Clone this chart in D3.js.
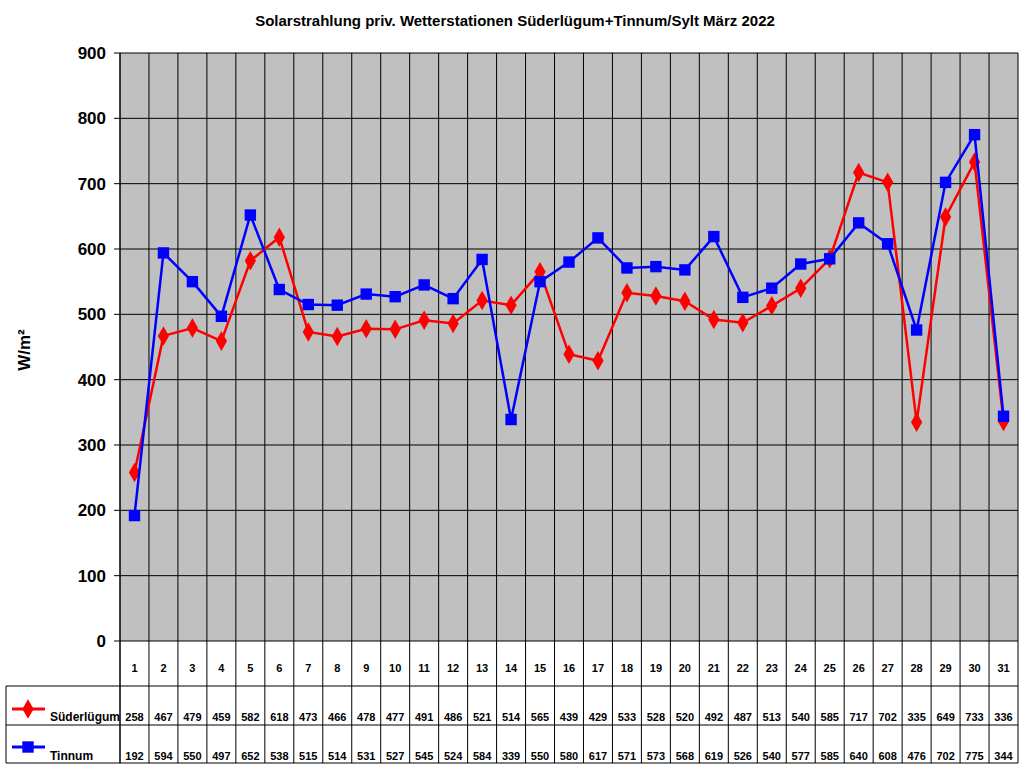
<!DOCTYPE html><html><head><meta charset="utf-8"><script src="https://cdn.jsdelivr.net/npm/d3@7"></script>
<style>body{margin:0;background:#fff}text{font-family:Arial,"Liberation Sans",sans-serif;font-weight:bold}</style></head><body>
<svg id="c" width="1024" height="768"></svg>
<script>
const days=d3.range(1,32).map(String);
const sued=[258,467,479,459,582,618,473,466,478,477,491,486,521,514,565,439,429,533,528,520,492,487,513,540,585,717,702,335,649,733,336];
const tinn=[192,594,550,497,652,538,515,514,531,527,545,524,584,339,550,580,617,571,573,568,619,526,540,577,585,640,608,476,702,775,344];
const yTicks=[0,100,200,300,400,500,600,700,800,900];
const series=[{name:"Süderlügum",vals:sued,color:"#ff0000",shape:"diamond"},{name:"Tinnum",vals:tinn,color:"#0000ff",shape:"square"}];
const svg=d3.select("#c");
const L=120,R=1018,T=53,B=641;
const x=d3.scaleBand().domain(days).range([L,R]);
const y=d3.scaleLinear().domain([0,900]).range([B,T]);
svg.append("rect").attr("x",L).attr("y",T).attr("width",R-L).attr("height",B-T).attr("fill","#c0c0c0");
svg.selectAll(".hg").data(yTicks).join("line").attr("x1",L).attr("x2",R).attr("y1",d=>y(d)).attr("y2",d=>y(d)).attr("stroke","#000");
svg.selectAll(".vg").data(days.concat(["end"])).join("line").attr("x1",d=>d==="end"?R:x(d)).attr("x2",d=>d==="end"?R:x(d)).attr("y1",T).attr("y2",763).attr("stroke","#000");
svg.append("line").attr("x1",L).attr("x2",L).attr("y1",T).attr("y2",763).attr("stroke","#000");
svg.selectAll(".yt").data(yTicks).join("line").attr("x1",L-6).attr("x2",L).attr("y1",d=>y(d)).attr("y2",d=>y(d)).attr("stroke","#000");
svg.selectAll(".yl").data(yTicks).join("text").attr("x",L-14).attr("y",d=>y(d)+6).attr("text-anchor","end").attr("font-size",17).text(d=>d);
svg.append("text").attr("transform","translate(30,350) rotate(-90)").attr("text-anchor","middle").attr("font-size",17).text("W/m²");
svg.append("text").attr("x",515).attr("y",26).attr("text-anchor","middle").attr("font-size",15).text("Solarstrahlung priv. Wetterstationen Süderlügum+Tinnum/Sylt März 2022");
// table
const rowY=[641,686,725,763];
[686,725,763].forEach(yy=>svg.append("line").attr("x1",6).attr("x2",R).attr("y1",yy).attr("y2",yy).attr("stroke","#000"));
svg.append("line").attr("x1",6).attr("x2",6).attr("y1",686).attr("y2",763).attr("stroke","#000");
svg.selectAll(".dl").data(days).join("text").attr("x",d=>x(d)+x.bandwidth()/2).attr("y",672).attr("text-anchor","middle").attr("font-size",11).text(d=>d);
const cx=d=>x(d)+x.bandwidth()/2;
series.forEach((s,i)=>{
  const ty=i===0?721:760;
  svg.selectAll(".v"+i).data(s.vals).join("text").attr("x",(v,j)=>cx(days[j])).attr("y",ty).attr("text-anchor","middle").attr("font-size",11).text(v=>v);
  svg.append("text").attr("x",50).attr("y",ty).attr("font-size",12).text(s.name);
  const ly=i===0?709:747;
  svg.append("line").attr("x1",12).attr("x2",45).attr("y1",ly).attr("y2",ly).attr("stroke",s.color).attr("stroke-width",3);
  const sym=d3.symbol().type(s.shape==="diamond"?d3.symbolDiamond:d3.symbolSquare).size(s.shape==="diamond"?110:130);
  svg.append("path").attr("d",sym()).attr("transform",`translate(28,${ly})`).attr("fill",s.color);
});
// lines (Süderlügum drawn first, Tinnum on top)
series.forEach(s=>{
  const pts=s.vals.map((v,j)=>[cx(days[j]),y(v)]);
  svg.append("path").attr("d",d3.line()(pts)).attr("fill","none").attr("stroke",s.color).attr("stroke-width",2.5);
  const sym=d3.symbol().type(s.shape==="diamond"?d3.symbolDiamond:d3.symbolSquare).size(s.shape==="diamond"?110:130);
  svg.selectAll(null).data(pts).join("path").attr("d",sym()).attr("transform",p=>`translate(${p[0]},${p[1]})`).attr("fill",s.color);
});
</script></body></html>
